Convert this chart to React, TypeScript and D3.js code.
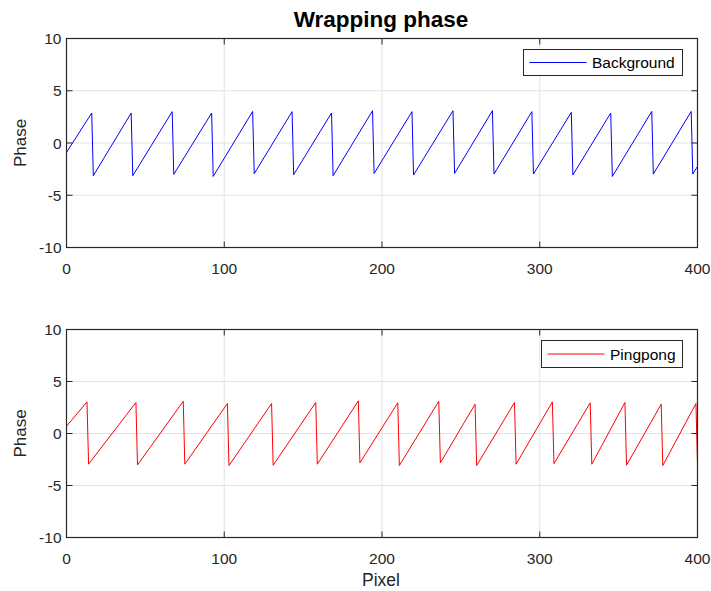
import React from "react";
import * as d3 from "d3";

const bgX = [0, 16, 17, 41, 42, 67, 68, 92, 93, 118, 119, 143, 144, 168, 169, 194, 195, 219, 220, 245, 246, 270, 271, 295, 296, 320, 321, 345, 346, 371, 372, 396, 397, 400];
const bgY = [-0.9, 2.87, -3.13, 2.87, -3.13, 3.0, -3.0, 2.87, -3.2, 3.02, -2.94, 3.0, -3.03, 2.87, -3.13, 3.09, -2.91, 3.0, -3.06, 3.09, -2.91, 3.09, -2.97, 3.0, -2.97, 2.93, -3.06, 2.87, -3.2, 3.02, -2.97, 3.02, -2.97, -2.24];

const ppX = [0, 13, 14, 44, 45, 74, 75, 102, 103, 130, 131, 158, 159, 185, 186, 210, 211, 236, 237, 259, 260, 284, 285, 308, 309, 332, 333, 354, 355, 377, 378, 399, 400];
const ppY = [0.7, 3.04, -2.95, 2.98, -3.02, 3.1, -2.95, 2.88, -3.08, 2.88, -3.05, 2.98, -2.95, 3.14, -2.82, 2.95, -3.08, 3.1, -2.82, 2.82, -3.08, 2.98, -2.95, 3.04, -2.9, 2.95, -2.95, 2.98, -3.05, 2.82, -3.08, 2.88, -2.95];

const xTicks = [0, 100, 200, 300, 400];
const yTicks = [-10, -5, 0, 5, 10];
const xDomain = [0, 400];
const yDomain = [-10, 10];

const FONT = "'Liberation Sans', Arial, Helvetica, sans-serif";
const AX = "#262626";
const GRID = "#e3e3e3";

type PanelProps = {
  xs: number[];
  ys: number[];
  color: string;
  label: string;
  top: number;
  bottom: number;
  legend: { x0: number; x1: number; y0: number; y1: number };
};

const LEFT = 66.5;
const RIGHT = 697.5;

function Panel({ xs, ys, color, label, top, bottom, legend }: PanelProps) {
  const x = d3.scaleLinear().domain(xDomain).range([LEFT, RIGHT]);
  const y = d3.scaleLinear().domain(yDomain).range([bottom, top]);
  const pts: [number, number][] = xs.map((v, i) => [v, ys[i]]);
  const line = d3
    .line<[number, number]>()
    .x((d) => x(d[0]))
    .y((d) => y(d[1]));
  const tl = 6;
  const ly = (legend.y0 + legend.y1) / 2;
  return (
    <g>
      <rect x={LEFT} y={top} width={RIGHT - LEFT} height={bottom - top} fill="#fff" />
      {xTicks.map((t) => (
        <line key={"gx" + t} x1={x(t)} x2={x(t)} y1={top} y2={bottom} stroke={GRID} strokeWidth={1} />
      ))}
      {yTicks.map((t) => (
        <line key={"gy" + t} x1={LEFT} x2={RIGHT} y1={y(t)} y2={y(t)} stroke={GRID} strokeWidth={1} />
      ))}
      <defs>
        <clipPath id={"clip" + label}>
          <rect x={LEFT} y={top} width={RIGHT - LEFT} height={bottom - top} />
        </clipPath>
      </defs>
      <path d={line(pts) || ""} fill="none" stroke={color} strokeWidth={1} clipPath={`url(#clip${label})`} />
      {xTicks.map((t) => (
        <g key={"tx" + t}>
          <line x1={x(t)} x2={x(t)} y1={bottom} y2={bottom - tl} stroke={AX} />
          <line x1={x(t)} x2={x(t)} y1={top} y2={top + tl} stroke={AX} />
          <text x={x(t)} y={bottom + 26} textAnchor="middle" fontSize={15.5} fill={AX} fontFamily={FONT}>
            {t}
          </text>
        </g>
      ))}
      {yTicks.map((t) => (
        <g key={"ty" + t}>
          <line x1={LEFT} x2={LEFT + tl} y1={y(t)} y2={y(t)} stroke={AX} />
          <line x1={RIGHT} x2={RIGHT - tl} y1={y(t)} y2={y(t)} stroke={AX} />
          <text x={LEFT - 5} y={y(t) + 5.5} textAnchor="end" fontSize={15.5} fill={AX} fontFamily={FONT}>
            {t}
          </text>
        </g>
      ))}
      <rect x={LEFT} y={top} width={RIGHT - LEFT} height={bottom - top} fill="none" stroke={AX} strokeWidth={1.2} />
      <text
        transform={`translate(26,${(top + bottom) / 2}) rotate(-90)`}
        textAnchor="middle"
        fontSize={17}
        fill={AX}
        fontFamily={FONT}
      >
        Phase
      </text>
      <rect
        x={legend.x0}
        y={legend.y0}
        width={legend.x1 - legend.x0}
        height={legend.y1 - legend.y0}
        fill="#fff"
        stroke={AX}
        strokeWidth={1}
      />
      <line x1={legend.x0 + 6} x2={legend.x0 + 63} y1={ly} y2={ly} stroke={color} strokeWidth={1} />
      <text x={legend.x0 + 68.5} y={ly + 5.5} fontSize={15.5} fill="#000" fontFamily={FONT}>
        {label}
      </text>
    </g>
  );
}

export default function App() {
  return (
    <svg
      width={711}
      height={591}
      style={{ position: "absolute", left: 0, top: 0, background: "#fff" }}
    >
      <rect width={711} height={591} fill="#fff" />
      <text x={381} y={27} textAnchor="middle" fontSize={22.5} fontWeight="bold" fill="#000" fontFamily={FONT}>
        Wrapping phase
      </text>
      <Panel
        xs={bgX}
        ys={bgY}
        color="#0000ff"
        label="Background"
        top={38.5}
        bottom={247.5}
        legend={{ x0: 523.5, x1: 682.5, y0: 49.5, y1: 75.5 }}
      />
      <Panel
        xs={ppX}
        ys={ppY}
        color="#ff0000"
        label="Pingpong"
        top={329.5}
        bottom={537.5}
        legend={{ x0: 541.5, x1: 682.5, y0: 340.5, y1: 367.5 }}
      />
      <text x={381} y={586} textAnchor="middle" fontSize={17.5} fill={AX} fontFamily={FONT}>
        Pixel
      </text>
    </svg>
  );
}
